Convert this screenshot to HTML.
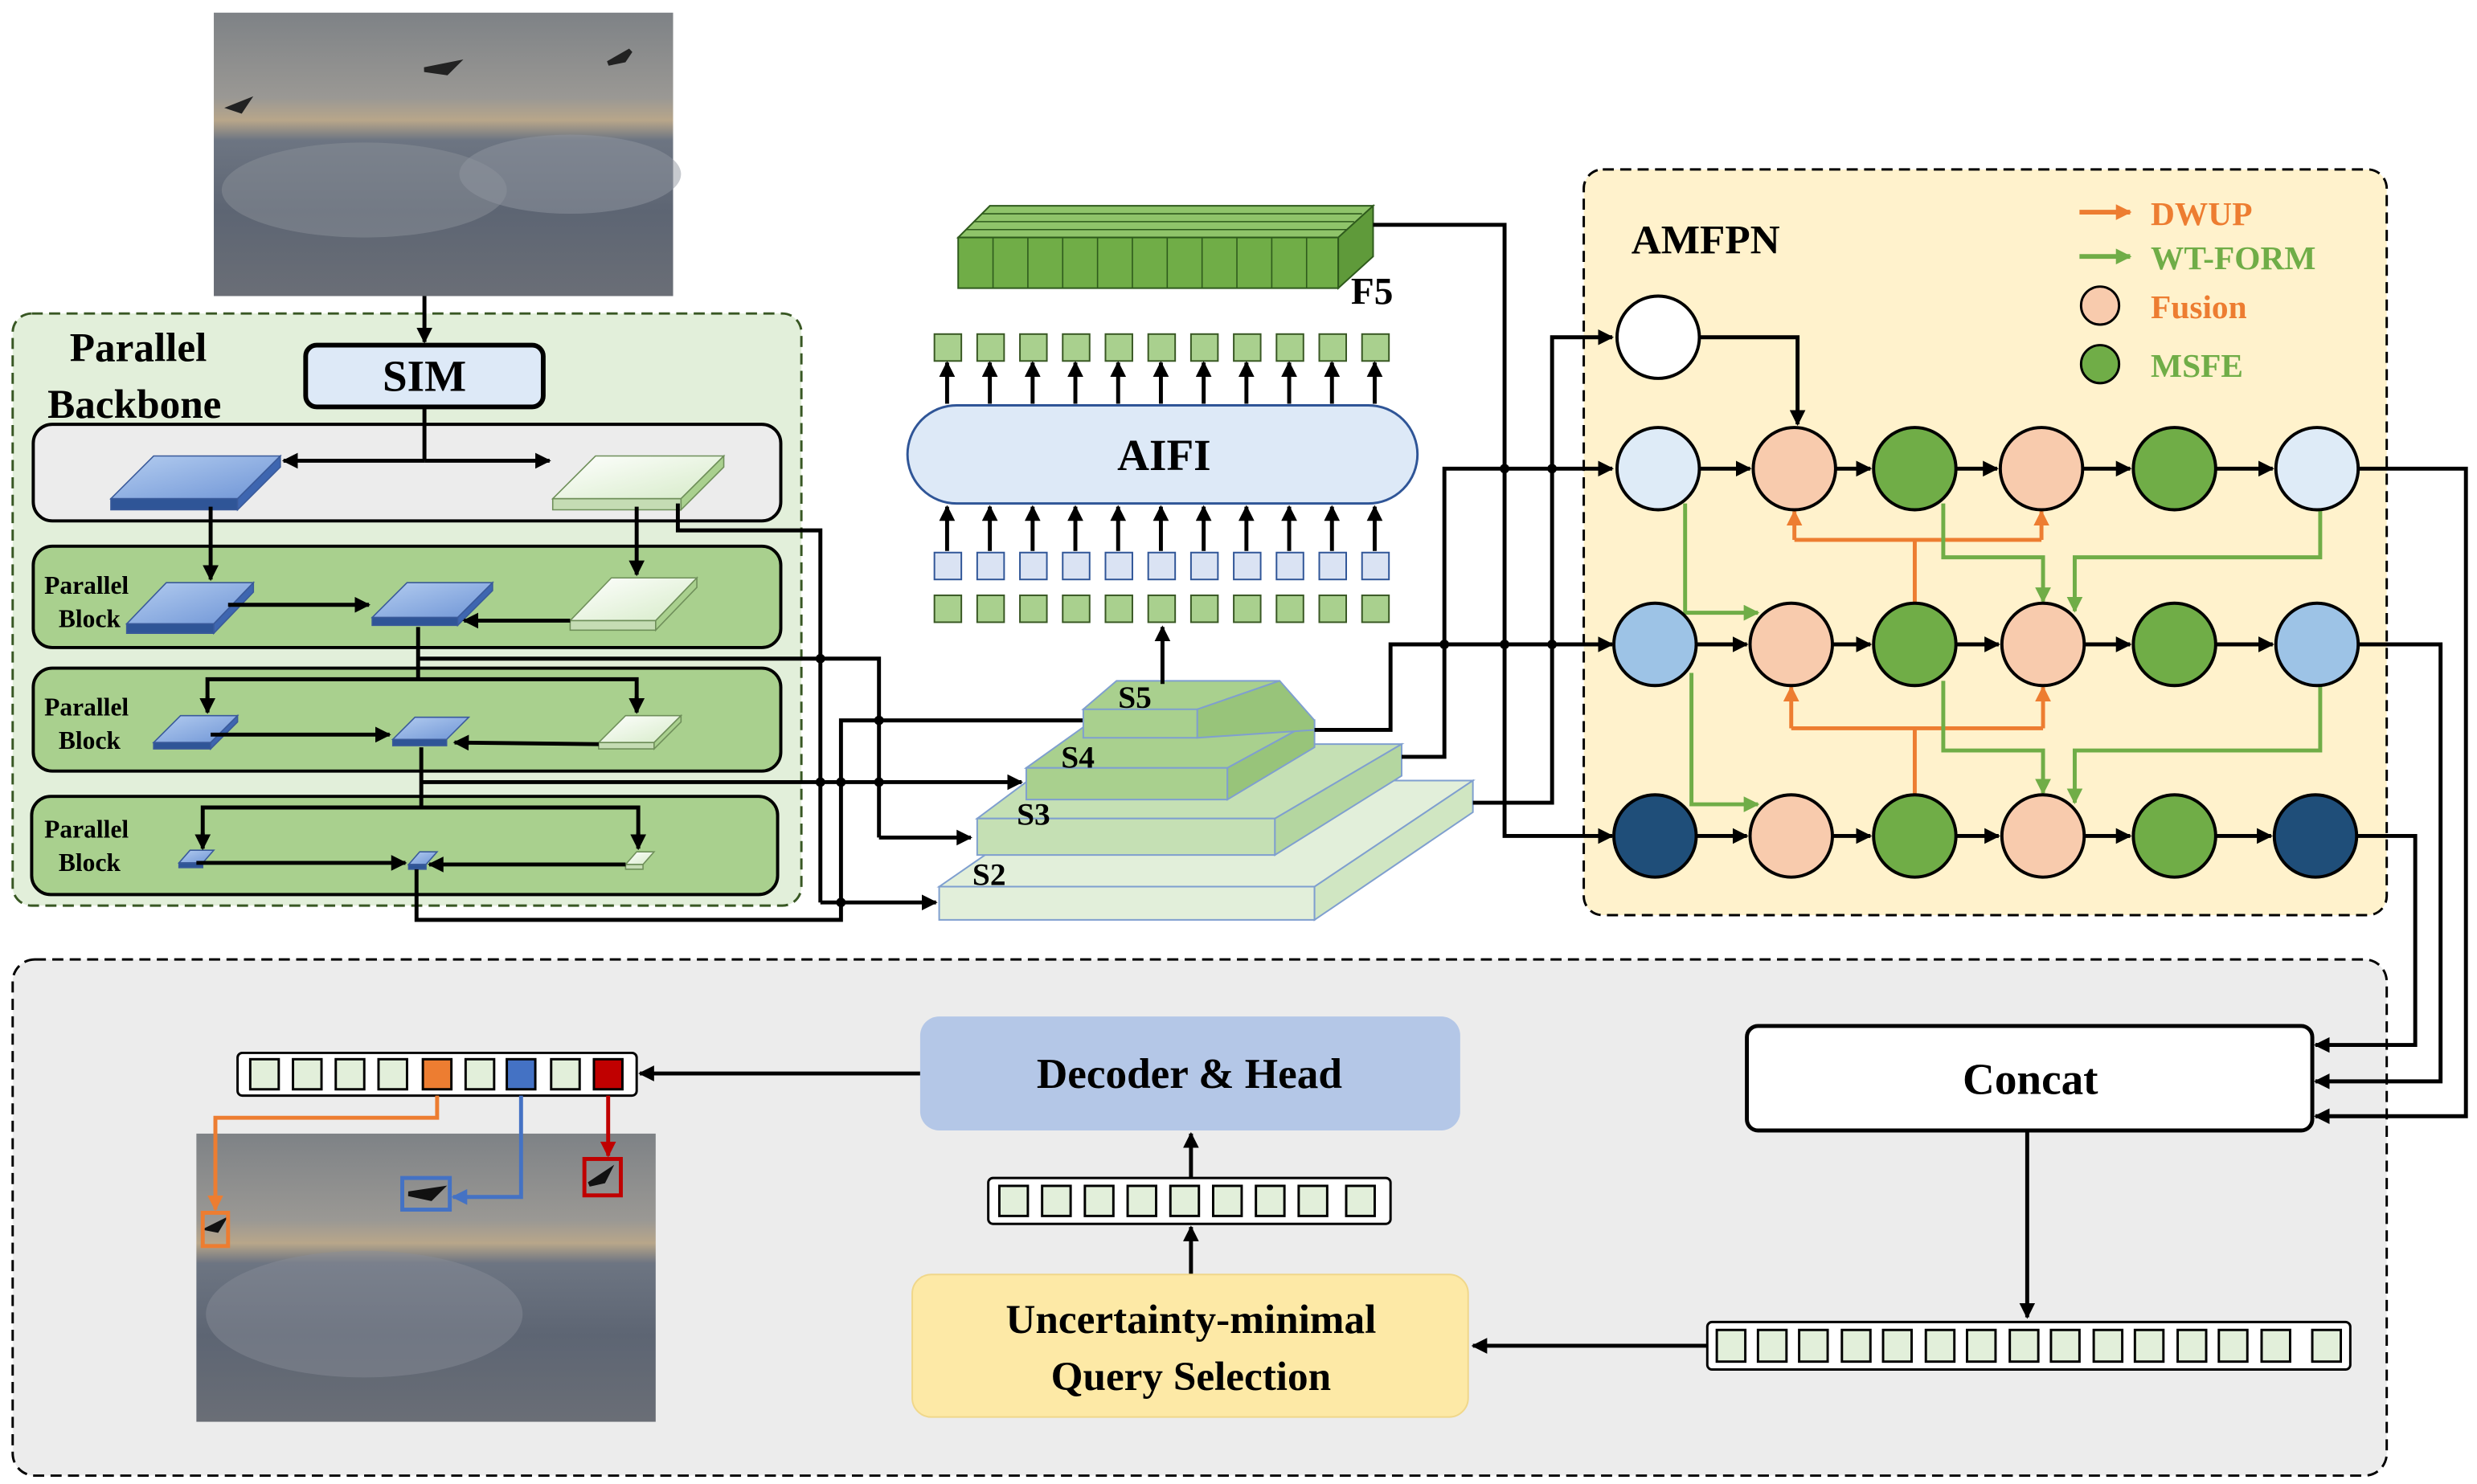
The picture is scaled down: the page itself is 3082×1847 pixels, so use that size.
<!DOCTYPE html>
<html><head><meta charset="utf-8"><style>
html,body{margin:0;padding:0;background:#fff;}
svg{display:block;}
text{font-family:"Liberation Serif","Times New Roman",serif;font-weight:bold;}
</style></head><body>
<svg width="3082" height="1847" viewBox="0 0 1564 937.3" preserveAspectRatio="none" xmlns="http://www.w3.org/2000/svg">
<defs>
<marker id="ak" markerWidth="10" markerHeight="10" refX="9" refY="5" orient="auto" markerUnits="userSpaceOnUse"><path d="M0,0L10,5L0,10z" fill="#000"/></marker>
<marker id="ao" markerWidth="10" markerHeight="10" refX="9" refY="5" orient="auto" markerUnits="userSpaceOnUse"><path d="M0,0L10,5L0,10z" fill="#ed7d31"/></marker>
<marker id="ag" markerWidth="10" markerHeight="10" refX="9" refY="5" orient="auto" markerUnits="userSpaceOnUse"><path d="M0,0L10,5L0,10z" fill="#70ad47"/></marker>
<marker id="ab" markerWidth="10" markerHeight="10" refX="9" refY="5" orient="auto" markerUnits="userSpaceOnUse"><path d="M0,0L10,5L0,10z" fill="#4472c4"/></marker>
<marker id="ar" markerWidth="10" markerHeight="10" refX="9" refY="5" orient="auto" markerUnits="userSpaceOnUse"><path d="M0,0L10,5L0,10z" fill="#c00000"/></marker>
<linearGradient id="img" x1="0" y1="0" x2="0" y2="1">
<stop offset="0" stop-color="#7e8286"/><stop offset="0.3" stop-color="#9a9894"/><stop offset="0.38" stop-color="#b8a68a"/><stop offset="0.45" stop-color="#6d7582"/><stop offset="0.7" stop-color="#5d6573"/><stop offset="1" stop-color="#6a6e76"/></linearGradient>
<linearGradient id="pb" x1="0" y1="0" x2="1" y2="1"><stop offset="0" stop-color="#b4cdf0"/><stop offset="1" stop-color="#6f95d6"/></linearGradient>
<linearGradient id="pw" x1="0" y1="0" x2="1" y2="1"><stop offset="0" stop-color="#ffffff"/><stop offset="1" stop-color="#d6ebc8"/></linearGradient>
</defs>

<!-- top image -->
<rect x="135" y="8" width="290" height="179" fill="url(#img)"/>
<ellipse cx="230" cy="120" rx="90" ry="30" fill="#8a8f98" opacity="0.5"/>
<ellipse cx="360" cy="110" rx="70" ry="25" fill="#9096a0" opacity="0.5"/>
<path d="M268,44l20,-4l-6,6z M146,68l10,-4l-4,6z M384,40l14,-8l-4,6z" stroke="#222" stroke-width="3" fill="#222"/>

<!-- Parallel backbone -->
<rect x="8" y="198" width="498" height="374" rx="12" fill="#e2efda" stroke="#385723" stroke-width="1.5" stroke-dasharray="7,4"/>
<line x1="268" y1="187" x2="268" y2="216" stroke="#000" stroke-width="2.5" marker-end="url(#ak)"/>
<text x="44" y="228" font-size="26">Parallel</text>
<text x="30" y="264" font-size="26">Backbone</text>
<rect x="193" y="218" width="150" height="39" rx="7" fill="#dde9f7" stroke="#000" stroke-width="3"/>
<text x="268" y="247" font-size="28" text-anchor="middle">SIM</text>
<rect x="21" y="268" width="472" height="61" rx="12" fill="#ececec" stroke="#000" stroke-width="2"/>
<rect x="21" y="345" width="472" height="64" rx="12" fill="#a9d08e" stroke="#000" stroke-width="2"/>
<rect x="21" y="422" width="472" height="65" rx="12" fill="#a9d08e" stroke="#000" stroke-width="2"/>
<rect x="20" y="503" width="471" height="62" rx="12" fill="#a9d08e" stroke="#000" stroke-width="2"/>
<g font-size="16"><text x="28" y="375">Parallel</text><text x="37" y="396">Block</text>
<text x="28" y="452">Parallel</text><text x="37" y="473">Block</text>
<text x="28" y="529">Parallel</text><text x="37" y="550">Block</text></g>

<!-- plates -->
<g stroke="#3a5a9a" stroke-width="0.8">
<polygon points="70,315 97,288 177,288 150,315" fill="url(#pb)"/><polygon points="70,315 150,315 150,322 70,322" fill="#2f5597"/><polygon points="150,315 177,288 177,295 150,322" fill="#3e66b0"/>
<polygon points="80,394 105,368 160,368 135,394" fill="url(#pb)"/><polygon points="80,394 135,394 135,400 80,400" fill="#2f5597"/><polygon points="135,394 160,368 160,374 135,400" fill="#3e66b0"/>
<polygon points="235,390 257,368 311,368 289,390" fill="url(#pb)"/><polygon points="235,390 289,390 289,395 235,395" fill="#2f5597"/><polygon points="289,390 311,368 311,373 289,395" fill="#3e66b0"/>
<polygon points="97,469 114,452 150,452 133,469" fill="url(#pb)"/><polygon points="97,469 133,469 133,473 97,473" fill="#2f5597"/><polygon points="133,469 150,452 150,456 133,473" fill="#3e66b0"/>
<polygon points="248,467 262,453 296,453 282,467" fill="url(#pb)"/><polygon points="248,467 282,467 282,471 248,471" fill="#2f5597"/>
<polygon points="113,545 120,537 135,537 128,545" fill="url(#pb)"/><polygon points="113,545 128,545 128,548 113,548" fill="#2f5597"/>
<polygon points="258,546 265,538 276,538 269,546" fill="url(#pb)"/><polygon points="258,546 269,546 269,549 258,549" fill="#2f5597"/>
</g>
<g stroke="#6f8f5a" stroke-width="0.8">
<polygon points="349,315 376,288 457,288 430,315" fill="url(#pw)"/><polygon points="349,315 430,315 430,322 349,322" fill="#c5dcb4"/><polygon points="430,315 457,288 457,295 430,322" fill="#a9d08e"/>
<polygon points="360,392 386,365 440,365 414,392" fill="url(#pw)"/><polygon points="360,392 414,392 414,398 360,398" fill="#c5dcb4"/><polygon points="414,392 440,365 440,371 414,398" fill="#a9d08e"/>
<polygon points="378,469 395,452 430,452 413,469" fill="url(#pw)"/><polygon points="378,469 413,469 413,473 378,473" fill="#c5dcb4"/><polygon points="413,469 430,452 430,456 413,473" fill="#a9d08e"/>
<polygon points="395,546 402,538 413,538 406,546" fill="url(#pw)"/><polygon points="395,546 406,546 406,549 395,549" fill="#c5dcb4"/>
</g>

<!-- backbone arrows -->
<g stroke="#000" stroke-width="2.5" fill="none">
<polyline points="268,257 268,291"/>
<line x1="268" y1="291" x2="179" y2="291" marker-end="url(#ak)"/>
<line x1="268" y1="291" x2="347" y2="291" marker-end="url(#ak)"/>
<line x1="133" y1="320" x2="133" y2="366" marker-end="url(#ak)"/>
<line x1="402" y1="320" x2="402" y2="363" marker-end="url(#ak)"/>
<line x1="144" y1="382" x2="233" y2="382" marker-end="url(#ak)"/>
<line x1="360" y1="392" x2="293" y2="392" marker-end="url(#ak)"/>
<polyline points="264,396 264,429"/>
<polyline points="131,449 131,429 402,429 402,449"/>
<line x1="131" y1="440" x2="131" y2="450" marker-end="url(#ak)"/>
<line x1="402" y1="440" x2="402" y2="450" marker-end="url(#ak)"/>
<line x1="133" y1="464" x2="246" y2="464" marker-end="url(#ak)"/>
<line x1="378" y1="470" x2="287" y2="469" marker-end="url(#ak)"/>
<polyline points="266,472 266,510"/>
<polyline points="128,530 128,510 403,510 403,530"/>
<line x1="128" y1="526" x2="128" y2="536" marker-end="url(#ak)"/>
<line x1="403" y1="526" x2="403" y2="536" marker-end="url(#ak)"/>
<line x1="124" y1="545" x2="256" y2="545" marker-end="url(#ak)"/>
<line x1="395" y1="546" x2="271" y2="546" marker-end="url(#ak)"/>
<polyline points="428,318 428,335 518,335 518,570"/>
<line x1="518" y1="570" x2="591" y2="570" marker-end="url(#ak)"/>
<polyline points="264,416 555,416 555,529"/>
<line x1="555" y1="529" x2="613" y2="529" marker-end="url(#ak)"/>
<line x1="266" y1="494" x2="645" y2="494" marker-end="url(#ak)"/>
<polyline points="263,549 263,581 531,581 531,455 684,455"/>
</g>
<g fill="#000"><circle cx="518" cy="416" r="3"/><circle cx="518" cy="494" r="3"/><circle cx="531" cy="494" r="3"/><circle cx="555" cy="494" r="3"/><circle cx="555" cy="455" r="3"/><circle cx="531" cy="570" r="3"/></g>

<!-- pyramid -->
<g stroke="#7f9fcf" stroke-width="1">
<polygon points="593,560 690,493 930,493 830,560" fill="#e2efda"/><polygon points="593,560 830,560 830,581 593,581" fill="#e2efda"/><polygon points="830,560 930,493 930,513 830,581" fill="#d0e6c2"/>
<polygon points="617,517 680,470 885,470 805,517" fill="#c5e0b4"/><polygon points="617,517 805,517 805,540 617,540" fill="#c5e0b4"/><polygon points="805,517 885,470 885,490 805,540" fill="#b4d6a0"/>
<polygon points="648,485 690,455 830,455 775,485" fill="#a9d08e"/><polygon points="648,485 775,485 775,505 648,505" fill="#a9d08e"/><polygon points="775,485 830,455 830,472 775,505" fill="#98c47a"/>
<polygon points="684,448 705,430 808,430 756,448" fill="#a9d08e"/><polygon points="684,448 756,448 756,466 684,466" fill="#a9d08e"/><polygon points="756,448 808,430 830,455 830,461 756,466" fill="#98c47a"/>
</g>
<g font-size="20"><text x="706" y="447">S5</text><text x="670" y="485">S4</text><text x="642" y="521">S3</text><text x="614" y="559">S2</text></g>
<line x1="734" y1="432" x2="734" y2="396" stroke="#000" stroke-width="2.5" marker-end="url(#ak)"/>

<!-- F5 tensor -->
<polygon points="605,150 625,130 867,130 845,150" fill="#8fc46a" stroke="#2e5a1c" stroke-width="1"/>
<rect x="605" y="150" width="240" height="32" fill="#70ad47" stroke="#2e5a1c" stroke-width="1"/>
<polygon points="845,150 867,130 867,162 845,182" fill="#5f9a3a" stroke="#2e5a1c" stroke-width="1"/>
<g stroke="#2e5a1c" stroke-width="0.8"><path d="M627,150v32M649,150v32M671,150v32M693,150v32M715,150v32M737,150v32M759,150v32M781,150v32M803,150v32M825,150v32"/>
<path d="M610,145H850M615,140H855M620,135H860"/></g>
<text x="853" y="192" font-size="24">F5</text>

<!-- AIFI -->
<g fill="#a9d08e" stroke="#385723" stroke-width="1">
<rect x="590" y="211" width="17" height="17"/><rect x="617" y="211" width="17" height="17"/><rect x="644" y="211" width="17" height="17"/><rect x="671" y="211" width="17" height="17"/><rect x="698" y="211" width="17" height="17"/><rect x="725" y="211" width="17" height="17"/><rect x="752" y="211" width="17" height="17"/><rect x="779" y="211" width="17" height="17"/><rect x="806" y="211" width="17" height="17"/><rect x="833" y="211" width="17" height="17"/><rect x="860" y="211" width="17" height="17"/>
<rect x="590" y="376" width="17" height="17"/><rect x="617" y="376" width="17" height="17"/><rect x="644" y="376" width="17" height="17"/><rect x="671" y="376" width="17" height="17"/><rect x="698" y="376" width="17" height="17"/><rect x="725" y="376" width="17" height="17"/><rect x="752" y="376" width="17" height="17"/><rect x="779" y="376" width="17" height="17"/><rect x="806" y="376" width="17" height="17"/><rect x="833" y="376" width="17" height="17"/><rect x="860" y="376" width="17" height="17"/>
</g>
<g fill="#dae3f3" stroke="#2f5597" stroke-width="1">
<rect x="590" y="349" width="17" height="17"/><rect x="617" y="349" width="17" height="17"/><rect x="644" y="349" width="17" height="17"/><rect x="671" y="349" width="17" height="17"/><rect x="698" y="349" width="17" height="17"/><rect x="725" y="349" width="17" height="17"/><rect x="752" y="349" width="17" height="17"/><rect x="779" y="349" width="17" height="17"/><rect x="806" y="349" width="17" height="17"/><rect x="833" y="349" width="17" height="17"/><rect x="860" y="349" width="17" height="17"/>
</g>
<g stroke="#000" stroke-width="2.5">
<line x1="598" y1="255" x2="598" y2="229" marker-end="url(#ak)"/><line x1="625" y1="255" x2="625" y2="229" marker-end="url(#ak)"/><line x1="652" y1="255" x2="652" y2="229" marker-end="url(#ak)"/><line x1="679" y1="255" x2="679" y2="229" marker-end="url(#ak)"/><line x1="706" y1="255" x2="706" y2="229" marker-end="url(#ak)"/><line x1="733" y1="255" x2="733" y2="229" marker-end="url(#ak)"/><line x1="760" y1="255" x2="760" y2="229" marker-end="url(#ak)"/><line x1="787" y1="255" x2="787" y2="229" marker-end="url(#ak)"/><line x1="814" y1="255" x2="814" y2="229" marker-end="url(#ak)"/><line x1="841" y1="255" x2="841" y2="229" marker-end="url(#ak)"/><line x1="868" y1="255" x2="868" y2="229" marker-end="url(#ak)"/>
<line x1="598" y1="348" x2="598" y2="320" marker-end="url(#ak)"/><line x1="625" y1="348" x2="625" y2="320" marker-end="url(#ak)"/><line x1="652" y1="348" x2="652" y2="320" marker-end="url(#ak)"/><line x1="679" y1="348" x2="679" y2="320" marker-end="url(#ak)"/><line x1="706" y1="348" x2="706" y2="320" marker-end="url(#ak)"/><line x1="733" y1="348" x2="733" y2="320" marker-end="url(#ak)"/><line x1="760" y1="348" x2="760" y2="320" marker-end="url(#ak)"/><line x1="787" y1="348" x2="787" y2="320" marker-end="url(#ak)"/><line x1="814" y1="348" x2="814" y2="320" marker-end="url(#ak)"/><line x1="841" y1="348" x2="841" y2="320" marker-end="url(#ak)"/><line x1="868" y1="348" x2="868" y2="320" marker-end="url(#ak)"/>
</g>
<rect x="573" y="256" width="322" height="62" rx="31" fill="#dde9f7" stroke="#2f5597" stroke-width="1.5"/>
<text x="735" y="297" font-size="28" text-anchor="middle">AIFI</text>

<!-- AMFPN -->
<rect x="1000" y="107" width="507" height="471" rx="12" fill="#fff2cc" stroke="#000" stroke-width="1.5" stroke-dasharray="7,4"/>
<text x="1030" y="160" font-size="26">AMFPN</text>
<line x1="1313" y1="134" x2="1345" y2="134" stroke="#ed7d31" stroke-width="3" marker-end="url(#ao)"/>
<text x="1358" y="142" font-size="21" fill="#ed7d31">DWUP</text>
<line x1="1313" y1="162" x2="1345" y2="162" stroke="#70ad47" stroke-width="3" marker-end="url(#ag)"/>
<text x="1358" y="170" font-size="21" fill="#70ad47">WT-FORM</text>
<circle cx="1326" cy="193" r="12" fill="#f8cbad" stroke="#000" stroke-width="1.5"/>
<text x="1358" y="201" font-size="21" fill="#ed7d31">Fusion</text>
<circle cx="1326" cy="230" r="12" fill="#70ad47" stroke="#000" stroke-width="1.5"/>
<text x="1358" y="238" font-size="21" fill="#70ad47">MSFE</text>

<!-- inputs to AMFPN -->
<g stroke="#000" stroke-width="2.5" fill="none">
<polyline points="867,142 950,142 950,528 1018,528" marker-end="url(#ak)"/>
<polyline points="830,461 878,461 878,407 1018,407" marker-end="url(#ak)"/>
<polyline points="885,478 912,478 912,296 1018,296" marker-end="url(#ak)"/>
<polyline points="930,507 980,507 980,213 1018,213" marker-end="url(#ak)"/>
</g>
<g fill="#000"><circle cx="950" cy="296" r="3"/><circle cx="950" cy="407" r="3"/><circle cx="980" cy="296" r="3"/><circle cx="980" cy="407" r="3"/><circle cx="912" cy="407" r="3"/></g>

<!-- AMFPN edges -->
<g stroke="#000" stroke-width="2.5" fill="none">
<polyline points="1073,213 1135,213 1135,268" marker-end="url(#ak)"/>
<line x1="1073" y1="296" x2="1105" y2="296" marker-end="url(#ak)"/><line x1="1159" y1="296" x2="1181" y2="296" marker-end="url(#ak)"/><line x1="1235" y1="296" x2="1261" y2="296" marker-end="url(#ak)"/><line x1="1315" y1="296" x2="1345" y2="296" marker-end="url(#ak)"/><line x1="1399" y1="296" x2="1435" y2="296" marker-end="url(#ak)"/>
<line x1="1071" y1="407" x2="1103" y2="407" marker-end="url(#ak)"/><line x1="1157" y1="407" x2="1181" y2="407" marker-end="url(#ak)"/><line x1="1235" y1="407" x2="1262" y2="407" marker-end="url(#ak)"/><line x1="1316" y1="407" x2="1345" y2="407" marker-end="url(#ak)"/><line x1="1399" y1="407" x2="1435" y2="407" marker-end="url(#ak)"/>
<line x1="1071" y1="528" x2="1103" y2="528" marker-end="url(#ak)"/><line x1="1157" y1="528" x2="1181" y2="528" marker-end="url(#ak)"/><line x1="1235" y1="528" x2="1262" y2="528" marker-end="url(#ak)"/><line x1="1316" y1="528" x2="1345" y2="528" marker-end="url(#ak)"/><line x1="1399" y1="528" x2="1434" y2="528" marker-end="url(#ak)"/>
</g>
<g stroke="#ed7d31" stroke-width="2.5" fill="none">
<polyline points="1209,381 1209,341"/><polyline points="1133,341 1289,341"/>
<line x1="1133" y1="341" x2="1133" y2="323" marker-end="url(#ao)"/><line x1="1289" y1="341" x2="1289" y2="323" marker-end="url(#ao)"/>
<polyline points="1209,502 1209,460"/><polyline points="1131,460 1290,460"/>
<line x1="1131" y1="460" x2="1131" y2="434" marker-end="url(#ao)"/><line x1="1290" y1="460" x2="1290" y2="434" marker-end="url(#ao)"/>
</g>
<g stroke="#70ad47" stroke-width="2.5" fill="none">
<polyline points="1064,318 1064,387 1110,387" marker-end="url(#ag)"/>
<polyline points="1068,425 1068,508 1110,508" marker-end="url(#ag)"/>
<polyline points="1227,318 1227,352 1290,352 1290,380" marker-end="url(#ag)"/>
<polyline points="1465,322 1465,352 1310,352 1310,386" marker-end="url(#ag)"/>
<polyline points="1227,430 1227,474 1290,474 1290,501" marker-end="url(#ag)"/>
<polyline points="1465,433 1465,474 1310,474 1310,507" marker-end="url(#ag)"/>
</g>
<g stroke="#000" stroke-width="2">
<circle cx="1047" cy="213" r="26" fill="#fff"/>
<circle cx="1047" cy="296" r="26" fill="#deebf7"/><circle cx="1133" cy="296" r="26" fill="#f8cbad"/><circle cx="1209" cy="296" r="26" fill="#70ad47"/><circle cx="1289" cy="296" r="26" fill="#f8cbad"/><circle cx="1373" cy="296" r="26" fill="#70ad47"/><circle cx="1463" cy="296" r="26" fill="#deebf7"/>
<circle cx="1045" cy="407" r="26" fill="#9dc3e6"/><circle cx="1131" cy="407" r="26" fill="#f8cbad"/><circle cx="1209" cy="407" r="26" fill="#70ad47"/><circle cx="1290" cy="407" r="26" fill="#f8cbad"/><circle cx="1373" cy="407" r="26" fill="#70ad47"/><circle cx="1463" cy="407" r="26" fill="#9dc3e6"/>
<circle cx="1045" cy="528" r="26" fill="#1f4e79"/><circle cx="1131" cy="528" r="26" fill="#f8cbad"/><circle cx="1209" cy="528" r="26" fill="#70ad47"/><circle cx="1290" cy="528" r="26" fill="#f8cbad"/><circle cx="1373" cy="528" r="26" fill="#70ad47"/><circle cx="1462" cy="528" r="26" fill="#1f4e79"/>
</g>

<!-- bottom box -->
<rect x="8" y="606" width="1499" height="326" rx="14" fill="#ececec" stroke="#000" stroke-width="1.5" stroke-dasharray="7,4"/>

<g stroke="#000" stroke-width="2.5" fill="none">
<polyline points="1489,296 1557,296 1557,705 1462,705" marker-end="url(#ak)"/>
<polyline points="1489,407 1541,407 1541,683 1462,683" marker-end="url(#ak)"/>
<polyline points="1488,528 1525,528 1525,660 1462,660" marker-end="url(#ak)"/>
<line x1="1280" y1="714" x2="1280" y2="832" marker-end="url(#ak)"/>
<line x1="1078" y1="850" x2="930" y2="850" marker-end="url(#ak)"/>
<line x1="752" y1="805" x2="752" y2="775" marker-end="url(#ak)"/>
<line x1="752" y1="744" x2="752" y2="716" marker-end="url(#ak)"/>
<line x1="581" y1="678" x2="404" y2="678" marker-end="url(#ak)"/>
</g>
<rect x="1103" y="648" width="357" height="66" rx="7" fill="#fff" stroke="#000" stroke-width="2.5"/>
<text x="1282" y="691" font-size="28" text-anchor="middle">Concat</text>

<rect x="1078" y="835" width="406" height="30" rx="3" fill="#fff" stroke="#000" stroke-width="1.5"/>
<g fill="#e2efda" stroke="#000" stroke-width="1.5">
<rect x="1084" y="840" width="18" height="20"/><rect x="1110" y="840" width="18" height="20"/><rect x="1136" y="840" width="18" height="20"/><rect x="1163" y="840" width="18" height="20"/><rect x="1189" y="840" width="18" height="20"/><rect x="1216" y="840" width="18" height="20"/><rect x="1242" y="840" width="18" height="20"/><rect x="1269" y="840" width="18" height="20"/><rect x="1295" y="840" width="18" height="20"/><rect x="1322" y="840" width="18" height="20"/><rect x="1348" y="840" width="18" height="20"/><rect x="1375" y="840" width="18" height="20"/><rect x="1401" y="840" width="18" height="20"/><rect x="1428" y="840" width="18" height="20"/><rect x="1460" y="840" width="18" height="20"/>
</g>

<rect x="576" y="805" width="351" height="90" rx="12" fill="#fde9a6" stroke="#f0d78a" stroke-width="1"/>
<text x="752" y="842" font-size="26" text-anchor="middle">Uncertainty-minimal</text>
<text x="752" y="878" font-size="26" text-anchor="middle">Query Selection</text>

<rect x="624" y="744" width="254" height="29" rx="3" fill="#fff" stroke="#000" stroke-width="1.5"/>
<g fill="#e2efda" stroke="#000" stroke-width="1.5">
<rect x="631" y="749" width="18" height="19"/><rect x="658" y="749" width="18" height="19"/><rect x="685" y="749" width="18" height="19"/><rect x="712" y="749" width="18" height="19"/><rect x="739" y="749" width="18" height="19"/><rect x="766" y="749" width="18" height="19"/><rect x="793" y="749" width="18" height="19"/><rect x="820" y="749" width="18" height="19"/><rect x="850" y="749" width="18" height="19"/>
</g>

<rect x="581" y="642" width="341" height="72" rx="12" fill="#b4c7e7"/>
<text x="751" y="687" font-size="27" text-anchor="middle">Decoder &amp; Head</text>

<rect x="150" y="665" width="252" height="27" rx="3" fill="#fff" stroke="#000" stroke-width="1.5"/>
<g stroke="#000" stroke-width="1.5">
<rect x="158" y="669" width="18" height="19" fill="#e2efda"/><rect x="185" y="669" width="18" height="19" fill="#e2efda"/><rect x="212" y="669" width="18" height="19" fill="#e2efda"/><rect x="239" y="669" width="18" height="19" fill="#e2efda"/><rect x="267" y="669" width="18" height="19" fill="#ed7d31"/><rect x="294" y="669" width="18" height="19" fill="#e2efda"/><rect x="320" y="669" width="18" height="19" fill="#4472c4"/><rect x="348" y="669" width="18" height="19" fill="#e2efda"/><rect x="375" y="669" width="18" height="19" fill="#c00000"/>
</g>

<!-- bottom image -->
<rect x="124" y="716" width="290" height="182" fill="url(#img)"/>
<ellipse cx="230" cy="830" rx="100" ry="40" fill="#8a8f98" opacity="0.45"/>
<path d="M258,754l20,-3l-6,6z M132,776l8,-4l-3,5z M372,748l12,-8l-3,6z" stroke="#111" stroke-width="3" fill="#111"/>
<g fill="none" stroke-width="2.5">
<polyline points="276,692 276,706 136,706 136,764" stroke="#ed7d31" marker-end="url(#ao)"/>
<polyline points="329,692 329,756 286,756" stroke="#4472c4" marker-end="url(#ab)"/>
<line x1="384" y1="692" x2="384" y2="730" stroke="#c00000" marker-end="url(#ar)"/>
<rect x="128" y="766" width="16" height="21" stroke="#ed7d31"/>
<rect x="254" y="744" width="30" height="20" stroke="#4472c4"/>
<rect x="369" y="732" width="23" height="23" stroke="#c00000"/>
</g>
</svg>
</body></html>
